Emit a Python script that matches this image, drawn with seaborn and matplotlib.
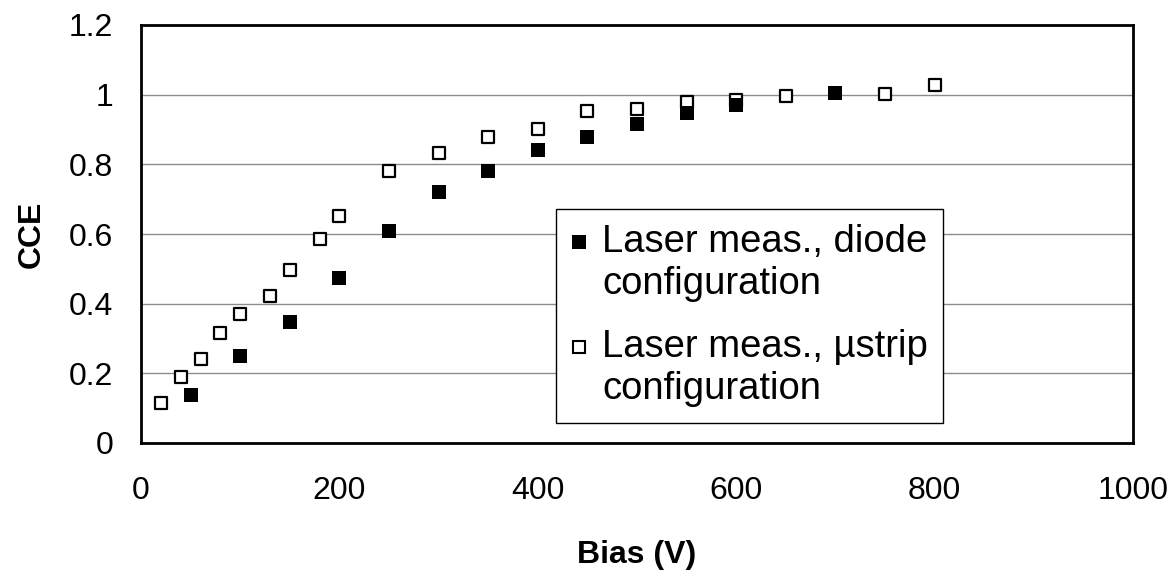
import matplotlib
matplotlib.use("Agg")
import matplotlib.pyplot as plt
import seaborn as sns
import pandas as pd
from matplotlib.lines import Line2D
from matplotlib.legend_handler import HandlerBase

# Data
bias_diode = [50, 100, 150, 200, 250, 300, 350, 400, 450, 500, 550, 600, 700]
cce_diode = [0.138, 0.250, 0.347, 0.474, 0.609, 0.720, 0.780, 0.840, 0.878, 0.916, 0.947, 0.971, 1.005]

bias_strip = [20, 40, 60, 80, 100, 130, 150, 180, 200, 250, 300, 350, 400, 450, 500, 550, 600, 650, 750, 800]
cce_strip = [0.116, 0.190, 0.242, 0.317, 0.370, 0.422, 0.497, 0.586, 0.653, 0.780, 0.833, 0.878, 0.900,
             0.953, 0.960, 0.979, 0.986, 0.997, 1.003, 1.028]

label_diode = "Laser meas., diode\nconfiguration"
label_strip = "Laser meas., \u00b5strip\nconfiguration"

x_ticks = [0, 200, 400, 600, 800, 1000]
y_ticks = [0, 0.2, 0.4, 0.6, 0.8, 1.0, 1.2]
y_ticklabels = ["0", "0.2", "0.4", "0.6", "0.8", "1", "1.2"]

sns.set_theme(style="white")
plt.rcParams['font.family'] = ['Liberation Sans', 'DejaVu Sans']
plt.rcParams['text.color'] = 'black'
plt.rcParams['axes.labelcolor'] = 'black'

df_d = pd.DataFrame({"Bias": bias_diode, "CCE": cce_diode})
df_s = pd.DataFrame({"Bias": bias_strip, "CCE": cce_strip})

fig = plt.figure(figsize=(11.76, 5.71), dpi=100)
ax = fig.add_axes([141/1176, 1-443/571, (1133-141)/1176, (443-25)/571])

sns.scatterplot(data=df_s, x="Bias", y="CCE", ax=ax, marker="s", s=80,
                facecolor="white", edgecolor="black", linewidth=1.6, zorder=3)
sns.scatterplot(data=df_d, x="Bias", y="CCE", ax=ax, marker="s", s=106,
                color="black", edgecolor="black", linewidth=0, zorder=4)

ax.set_xlim(0, 1000)
ax.set_ylim(0, 1.2)
ax.set_xticks(x_ticks)
ax.set_yticks(y_ticks)
ax.set_yticklabels(y_ticklabels)
ax.yaxis.grid(True, color="#8c8c8c", linewidth=1.0)
ax.xaxis.grid(False)
ax.set_axisbelow(True)

for sp in ax.spines.values():
    sp.set_visible(True)
    sp.set_color("black")
    sp.set_linewidth(2.0)

ax.tick_params(axis="both", which="major", direction="out", length=8,
               width=1.2, color="#808080", labelsize=23, labelcolor="black")
ax.tick_params(axis="x", pad=16)
ax.tick_params(axis="y", pad=12)

ax.set_xlabel("Bias (V)", fontsize=23, fontweight="bold", labelpad=24, color="black")
ax.set_ylabel("CCE", fontsize=23, fontweight="bold", labelpad=16, color="black")


class TopMarkerHandler(HandlerBase):
    def __init__(self, shift, **kw):
        super().__init__(**kw)
        self.shift = shift

    def create_artists(self, legend, orig_handle, xdescent, ydescent, width, height,
                       fontsize, trans):
        m = Line2D([width / 2 - xdescent], [height / 2 - ydescent + self.shift * fontsize],
                   linestyle="none")
        m.update_from(orig_handle)
        m.set_transform(trans)
        return [m]


h_diode = Line2D([], [], linestyle="none", marker="s", markersize=10.3, markerfacecolor="black",
                 markeredgecolor="black", markeredgewidth=0)
h_strip = Line2D([], [], linestyle="none", marker="s", markersize=8.8, markerfacecolor="white",
                 markeredgecolor="black", markeredgewidth=1.5)
handler = TopMarkerHandler(0.58)
leg = ax.legend([h_diode, h_strip], [label_diode, label_strip], loc="upper left",
                bbox_to_anchor=(0.4186, 0.5598), borderaxespad=0, fontsize=27.5,
                frameon=True, fancybox=False, shadow=False, framealpha=1,
                edgecolor="black", handlelength=0.4, handletextpad=0.4,
                borderpad=0.4, labelspacing=0.7,
                handler_map={h_diode: handler, h_strip: handler})
leg.get_frame().set_linewidth(1.0)
for t in leg.get_texts():
    t.set_linespacing(1.22)
    t.set_color("black")

fig.savefig("out.png", dpi=100)
